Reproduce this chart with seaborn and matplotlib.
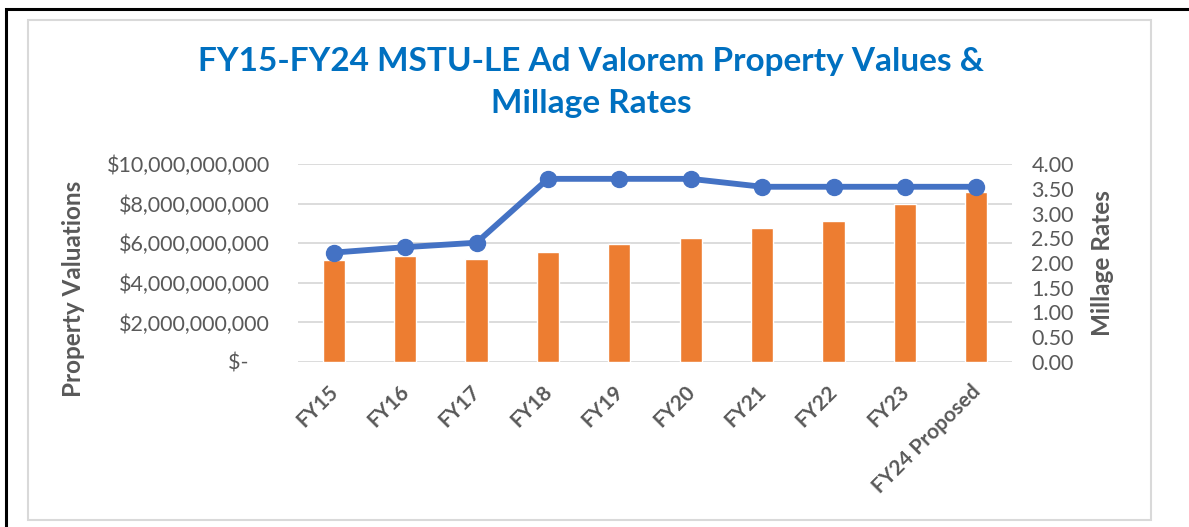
import numpy as np
import pandas as pd
import matplotlib
matplotlib.use("Agg")
import matplotlib.pyplot as plt
import seaborn as sns
from matplotlib.ticker import FuncFormatter, MultipleLocator
from matplotlib.patches import Rectangle
from matplotlib.transforms import ScaledTranslation

# Data
years = ["FY15", "FY16", "FY17", "FY18", "FY19", "FY20", "FY21", "FY22", "FY23", "FY24 Proposed"]
property_values = [5.13e9, 5.33e9, 5.18e9, 5.58e9, 5.96e9, 6.28e9, 6.75e9, 7.14e9, 7.97e9, 8.61e9]
millage_rates = [2.21, 2.32, 2.41, 3.70, 3.70, 3.70, 3.54, 3.54, 3.54, 3.54]

df = pd.DataFrame({"year": years, "value": property_values, "millage": millage_rates})

sns.set_style("white")
plt.rcParams["font.family"] = ["Lato", "DejaVu Sans"]

gray_txt = "#595959"
bar_color = "#ED7D31"
line_color = "#4472C4"

fig = plt.figure(figsize=(11.89, 5.27), dpi=100)

# outer frame lines and chart box
fig.add_artist(Rectangle((6 / 1189, -0.1), 2.0, (527 - 9) / 527 + 0.1, transform=fig.transFigure,
                         fill=False, edgecolor="black", linewidth=2.2))
fig.add_artist(Rectangle((28 / 1189, 1 - 520 / 527), (1151 - 28) / 1189, (520 - 20) / 527,
                         transform=fig.transFigure, fill=False, edgecolor="#D9D9D9", linewidth=1.5))

ax = fig.add_axes([298 / 1189, 1 - 362 / 527, (1012 - 298) / 1189, (362 - 164) / 527])

sns.barplot(data=df, x="year", y="value", color=bar_color, width=0.31, saturation=1, ax=ax)
ax.set_ylim(0, 1e10)
ax.yaxis.set_major_locator(MultipleLocator(2e9))
ax.yaxis.set_major_formatter(FuncFormatter(lambda v, p: "$-    " if v == 0 else f"${v:,.0f}"))
ax.grid(axis="y", color="#D9D9D9", linewidth=1.3)
ax.set_axisbelow(True)
for s in ax.spines.values():
    s.set_visible(False)
ax.tick_params(axis="both", length=0, labelsize=15.5, labelcolor=gray_txt)
ax.tick_params(axis="y", pad=20)
ax.set_xlabel("")
ax.set_ylabel("Property Valuations", fontsize=17.5, fontweight="bold", color=gray_txt)
ax.yaxis.set_label_coords(-0.298, 0.37)

ax2 = ax.twinx()
ax2.plot(np.arange(len(years)), df["millage"], color=line_color, linewidth=4.2,
         marker="o", markersize=11.5, solid_capstyle="round")
ax2.set_ylim(0, 4)
ax2.yaxis.set_major_locator(MultipleLocator(0.5))
ax2.yaxis.set_major_formatter(FuncFormatter(lambda v, p: f"{v:.2f}"))
for s in ax2.spines.values():
    s.set_visible(False)
ax2.tick_params(axis="y", length=0, labelsize=15.5, labelcolor=gray_txt, pad=14)
ax2.set_ylabel("Millage Rates", fontsize=17.5, fontweight="bold", color=gray_txt, labelpad=12)

ax.set_xlim(-0.5, len(years) - 0.5)
ax.set_xticks(np.arange(len(years)))
ax.set_xticklabels(years, rotation=45, ha="right", rotation_mode="anchor",
                   fontsize=15, fontweight="bold", color=gray_txt)
ax.tick_params(axis="x", pad=14)
shift = ScaledTranslation(-6 / 100, 0, fig.dpi_scale_trans)
for lab in ax.get_xticklabels():
    lab.set_transform(lab.get_transform() + shift)

fig.text(0.497, 1 - 62 / 527, "FY15-FY24 MSTU-LE Ad Valorem Property Values &",
         ha="center", va="center", fontsize=24, fontweight="bold", color="#0070C0")
fig.text(0.497, 1 - 104 / 527, "Millage Rates",
         ha="center", va="center", fontsize=24, fontweight="bold", color="#0070C0")

fig.savefig("out.png", dpi=100)
